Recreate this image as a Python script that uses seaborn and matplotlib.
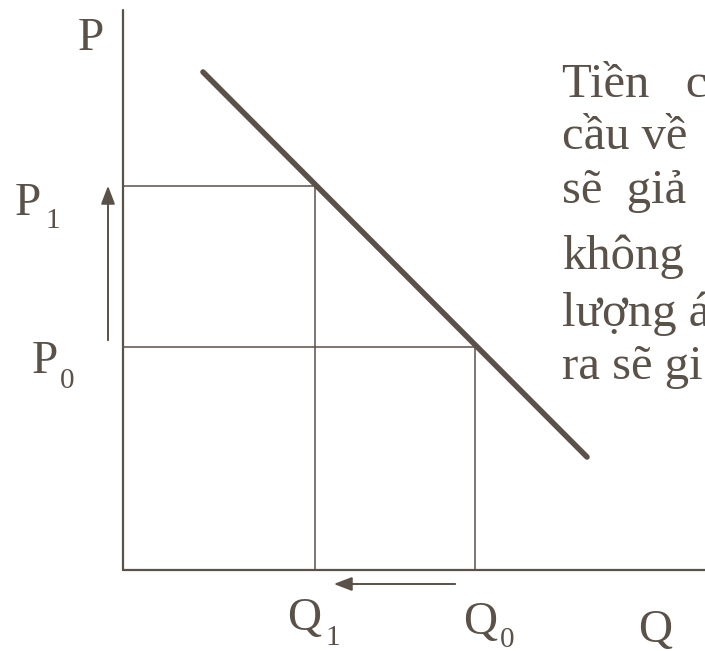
import seaborn as sns
import matplotlib.pyplot as plt
import pandas as pd

# demand curve end points (Q, P), plotted in pixel-like units from the origin
demand_q = [80, 464]
demand_p = [498, 113]

# equilibrium levels
p_levels = [223, 384]   # P0, P1
q_levels = [352, 192]   # Q0, Q1

axis_q_max = 582
axis_p_max = 560

note_lines = ["Tiền   c", "cầu về", "sẽ  giả", "không", "lượng á", "ra sẽ gi"]
note_baselines = [473, 421, 367, 301, 244, 191]

col = "#5a5149"

sns.set_style("white")
plt.rcParams["font.family"] = ["Liberation Serif", "DejaVu Serif"]

fig = plt.figure(figsize=(7.05, 6.51), dpi=100)
ax = fig.add_axes([0, 0, 1, 1])
ax.set_xlim(-123, 582)
ax.set_ylim(-81, 570)
ax.set_axis_off()

# axes of the diagram
ax.plot([0, 0], [0, axis_p_max], color=col, lw=1.6)
ax.plot([0, axis_q_max], [0, 0], color=col, lw=1.6)

# guide lines for the two equilibria
for p, q in zip(p_levels, q_levels):
    ax.plot([0, q], [p, p], color=col, lw=1.1)
    ax.plot([q, q], [0, p], color=col, lw=1.1)

# demand curve
df = pd.DataFrame({"Q": demand_q, "P": demand_p})
sns.lineplot(data=df, x="Q", y="P", color=col, lw=4.0, ax=ax)

# arrows: price up, quantity down
head = "-|>,head_length=1.1,head_width=0.42"
ax.annotate("", xy=(-15, p_levels[1] + 3), xytext=(-15, p_levels[0] + 4),
            arrowprops=dict(arrowstyle=head, color=col, lw=1.4))
ax.annotate("", xy=(q_levels[1] + 16, -14), xytext=(q_levels[0] - 17, -14),
            arrowprops=dict(arrowstyle=head, color=col, lw=1.4))

big = 34
small = 21
ax.text(-45, 520, "P", color=col, fontsize=big, va="baseline")
ax.text(-108, 355, "P", color=col, fontsize=big, va="baseline")
ax.text(-78, 342, "1", color=col, fontsize=small, va="baseline")
ax.text(-91, 197, "P", color=col, fontsize=big, va="baseline")
ax.text(-63, 182, "0", color=col, fontsize=small, va="baseline")
ax.text(164, -60, "Q", color=col, fontsize=big, va="baseline")
ax.text(202, -75, "1", color=col, fontsize=small, va="baseline")
ax.text(340, -64, "Q", color=col, fontsize=big, va="baseline")
ax.text(377, -77, "0", color=col, fontsize=small, va="baseline")
ax.text(515, -72, "Q", color=col, fontsize=big, va="baseline")

for line, y in zip(note_lines, note_baselines):
    ax.text(439, y, line, color=col, fontsize=35, va="baseline")

fig.savefig("out.png", dpi=100)
